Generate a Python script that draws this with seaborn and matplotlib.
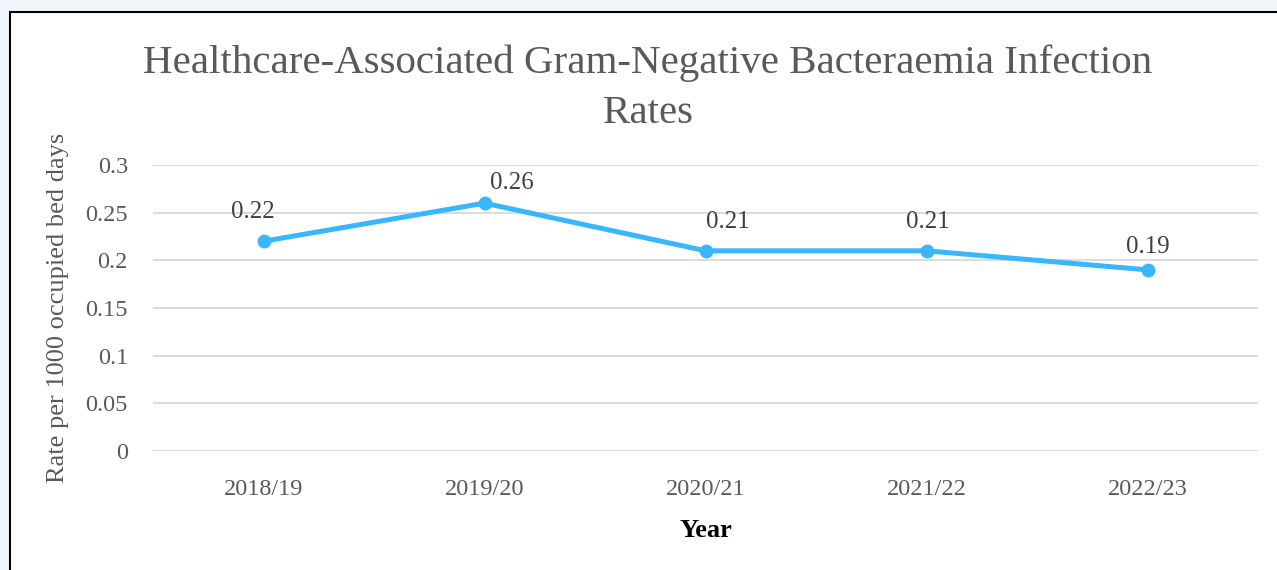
import matplotlib
matplotlib.use("Agg")
import matplotlib.pyplot as plt
from matplotlib.patches import Rectangle
import pandas as pd
import seaborn as sns

years = ["2018/19", "2019/20", "2020/21", "2021/22", "2022/23"]
rates = [0.22, 0.26, 0.21, 0.21, 0.19]
y_ticks = [0, 0.05, 0.1, 0.15, 0.2, 0.25, 0.3]
y_tick_labels = ["0", "0.05", "0.1", "0.15", "0.2", "0.25", "0.3"]

# label nudges in pixels (dx, dy), the original labels were placed by hand
label_offsets = [(-11, 29), (27, 20), (22, 29), (1, 29), (0, 23)]

df = pd.DataFrame({"year": years, "rate": rates})

sns.set_theme(style="white")
plt.rcParams["font.family"] = ["Liberation Serif", "DejaVu Serif"]

text_grey = "#595959"
line_blue = "#38B6FF"

fig = plt.figure(figsize=(12.77, 5.70), dpi=100)
fig.patch.set_facecolor("#EEF6FB")
# white chart area with the black frame (only left and top edges visible)
fig.add_artist(Rectangle((10 / 1277, -0.1), 1.2, (570 - 12) / 570 + 0.1,
                         transform=fig.transFigure, facecolor="white",
                         edgecolor="black", linewidth=1.5, zorder=0))

ax = fig.add_axes([153 / 1277, 119 / 570, 1105 / 1277, 286 / 570])
ax.set_facecolor("none")

sns.lineplot(data=df, x="year", y="rate", ax=ax, color=line_blue,
             linewidth=3.6, marker="o", markersize=10, markeredgewidth=0,
             sort=False, zorder=3)

ax.set_xlim(-0.5, len(years) - 0.5)
ax.set_ylim(0, 0.3)
ax.set_yticks(y_ticks)
ax.set_yticklabels(y_tick_labels)
ax.yaxis.grid(True, color="#D9D9D9", linewidth=1.3)
ax.xaxis.grid(False)
for s in ax.spines.values():
    s.set_visible(False)
ax.tick_params(axis="both", length=0, labelsize=17.5, colors=text_grey)
ax.tick_params(axis="y", pad=18)
ax.tick_params(axis="x", pad=20)

ax.set_xlabel("Year", fontsize=19, fontweight="bold", color="black", labelpad=14)
ax.set_ylabel("Rate per 1000 occupied bed days", fontsize=19, color=text_grey,
              labelpad=12)

for i, (v, (dx, dy)) in enumerate(zip(rates, label_offsets)):
    ax.annotate(f"{v:.2f}", (i, v), xytext=(dx * 0.72, dy * 0.72),
                textcoords="offset points", ha="center", va="center",
                fontsize=18, color="#404040")

fig.text(648 / 1277, 1 - 88 / 570,
         "Healthcare-Associated Gram-Negative Bacteraemia Infection\nRates",
         ha="center", va="center", fontsize=29.5, color=text_grey,
         linespacing=1.45)

fig.savefig("out.png", dpi=100, facecolor=fig.get_facecolor())
